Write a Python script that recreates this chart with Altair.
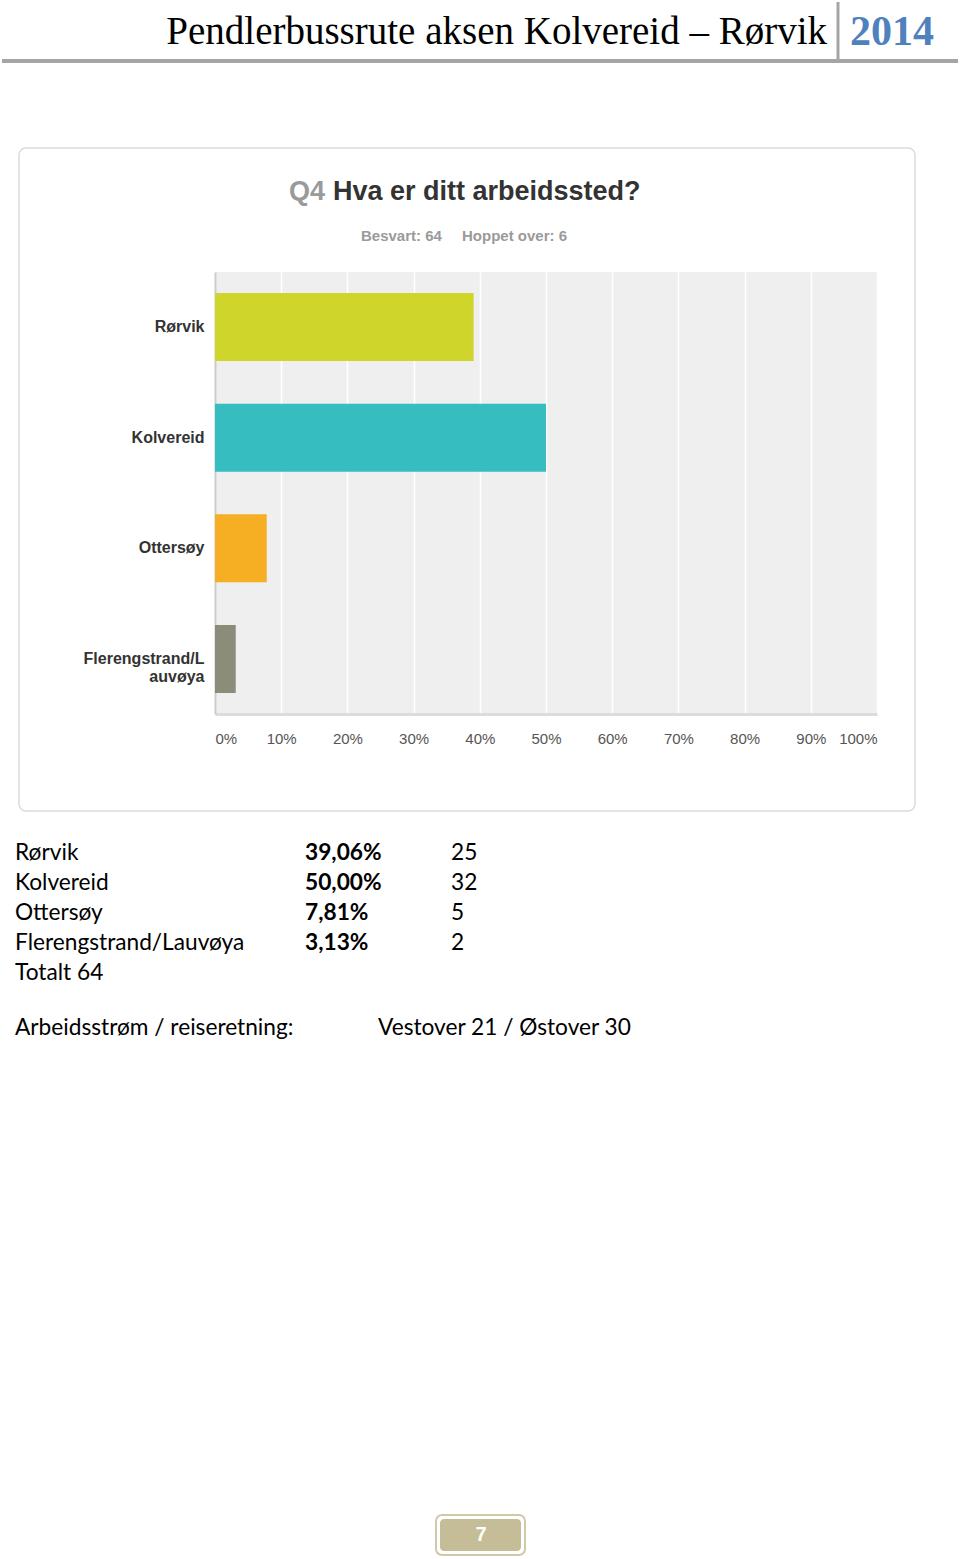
import altair as alt
import pandas as pd

# ---------------- data ----------------
categories = ["Rørvik", "Kolvereid", "Ottersøy", "Flerengstrand/Lauvøya"]
percents = [39.06, 50.00, 7.81, 3.13]
counts = [25, 32, 5, 2]
bar_colors = ["#d0d52b", "#35bdbf", "#f6ae23", "#8b8c7a"]
x_ticks = [0, 10, 20, 30, 40, 50, 60, 70, 80, 90, 100]

header_title = "Pendlerbussrute aksen Kolvereid – Rørvik"
header_year = "2014"
q_number = "Q4"
q_text = "Hva er ditt arbeidssted?"
answered = "Besvart: 64"
skipped = "Hoppet over: 6"
total_label = "Totalt 64"
flow_label = "Arbeidsstrøm / reiseretning:"
flow_value = "Vestover 21 / Østover 30"
page_number = "7"

# ---------------- layout ----------------
OX, OY = 215, 272          # plot origin on page
W, H = 662, 442            # plot area
PAGE_W, PAGE_H = 960, 1559


def X(px):
    return px - OX


def Y(py):
    return py - OY


one = pd.DataFrame({"a": [0]})


def text(s, x, y, size, color="#000000", font="Liberation Sans",
         weight="normal", align="left"):
    return alt.Chart(one).mark_text(
        font=font, fontSize=size, fontWeight=weight, color=color,
        align=align, baseline="middle"
    ).encode(x=alt.value(X(x)), y=alt.value(Y(y)), text=alt.value(s))


def rect(x1, x2, y1, y2, **kw):
    return alt.Chart(one).mark_rect(**kw).encode(
        x=alt.value(X(x1)), x2=alt.value(X(x2)),
        y=alt.value(Y(y1)), y2=alt.value(Y(y2)))


def rule(x1, x2, y1, y2, **kw):
    return alt.Chart(one).mark_rule(**kw).encode(
        x=alt.value(X(x1)), x2=alt.value(X(x2)),
        y=alt.value(Y(y1)), y2=alt.value(Y(y2)))


layers = []

# header
layers.append(text(header_title, 827, 32, 39, "#000000",
                   font="Liberation Serif", align="right"))
layers.append(text(header_year, 850, 32, 42, "#4f81bd",
                   font="Liberation Serif", weight="bold"))
layers.append(rule(2, 958, 61, 61, color="#a5a5a5", strokeWidth=4))
layers.append(rule(838, 838, 2, 62, color="#a5a5a5", strokeWidth=3))

# chart box
layers.append(rect(19, 915, 148, 811, fillOpacity=0, stroke="#dcdcdc",
                   strokeWidth=1.5, cornerRadius=7))

# chart title and subtitle
layers.append(text(q_number, 289, 192, 27, "#9a9a9a", weight="bold"))
layers.append(text(q_text, 333, 192, 27, "#333333", weight="bold"))
layers.append(text(answered, 361, 236, 15, "#9a9a9a", weight="bold"))
layers.append(text(skipped, 462, 236, 15, "#9a9a9a", weight="bold"))

# bars
df = pd.DataFrame({"cat": categories, "pct": percents})
wrapped = [categories[3][:15], categories[3][15:]]
label_expr = (
    f"datum.label == '{categories[3]}' ? ['{wrapped[0]}', '{wrapped[1]}'] : datum.label"
)

bars = alt.Chart(df).mark_bar().encode(
    x=alt.X("pct:Q", scale=alt.Scale(domain=[0, 100], nice=False),
            axis=alt.Axis(values=x_ticks, labelExpr="datum.value + '%'",
                          grid=True, gridColor="#ffffff", gridWidth=1.5,
                          ticks=False, domainColor="#dcdcdc", domainWidth=3,
                          labelFlush=True, labelColor="#555555",
                          labelFont="Liberation Sans", labelFontSize=15,
                          labelPadding=17, title=None)),
    y=alt.Y("cat:N", sort=categories,
            scale=alt.Scale(paddingInner=0.385, paddingOuter=0.19),
            axis=alt.Axis(ticks=False, domainColor="#cccccc", domainWidth=2,
                          labelPadding=11, labelFont="Liberation Sans",
                          labelFontWeight="bold", labelFontSize=16,
                          labelColor="#333333", labelExpr=label_expr,
                          labelLineHeight=18, grid=False, title=None)),
    color=alt.Color("cat:N", scale=alt.Scale(domain=categories, range=bar_colors),
                    legend=None),
)
layers.append(bars)

# table below the chart
row0, step = 853, 30
FS = 22.7
for i, (c, p, n) in enumerate(zip(categories, percents, counts)):
    y = row0 + i * step
    layers.append(text(c, 15, y, FS, "#000000", font="Lato"))
    layers.append(text(f"{p:.2f}".replace(".", ",") + "%", 305, y, FS,
                       "#000000", font="Lato", weight="bold"))
    layers.append(text(str(n), 451, y, FS, "#000000", font="Lato"))
layers.append(text(total_label, 15, row0 + 4 * step, FS, "#000000", font="Lato"))
layers.append(text(flow_label, 15, 1028, FS, "#000000", font="Lato"))
layers.append(text(flow_value, 378, 1028, FS, "#000000", font="Lato"))

# page number box
layers.append(rect(436, 525, 1515, 1555, fill="#ffffff", stroke="#cfc9a8",
                   strokeWidth=2, cornerRadius=6))
layers.append(rect(440, 521, 1519, 1551, fill="#c4bd97", cornerRadius=4))
layers.append(text(page_number, 481, 1535, 20, "#ffffff", weight="bold",
                   align="center"))

chart = alt.layer(*layers).properties(
    width=W, height=H,
    padding={"left": OX, "top": OY, "right": PAGE_W - OX - W,
             "bottom": PAGE_H - OY - H},
    autosize=alt.AutoSizeParams(type="none"),
    background="#ffffff",
).configure_view(fill="#efefef", stroke=None)

chart.save("out.html", embed_options={"renderer": "svg", "actions": False})
